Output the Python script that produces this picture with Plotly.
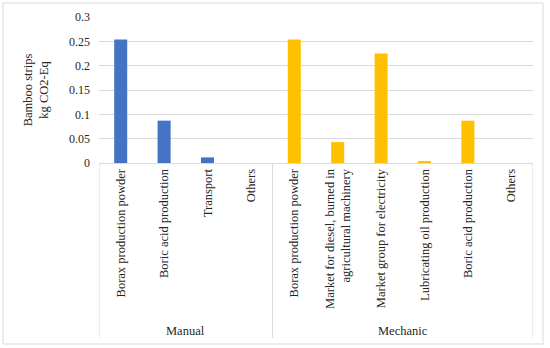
import plotly.graph_objects as go

groups = ["Manual"] * 4 + ["Mechanic"] * 6
categories = [
    "Borax production powder",
    "Boric acid production",
    "Transport",
    "Others",
    "Borax production powder",
    "Market for diesel, burned in<br>agricultural machinery",
    "Market group for electricity",
    "Lubricating oil production",
    "Boric acid production",
    "Others",
]
values = [0.254, 0.087, 0.0115, 0.0, 0.254, 0.043, 0.225, 0.0035, 0.087, 0.0]
colors = ["#4472C4"] * 4 + ["#FFC000"] * 6
y_ticks = [0, 0.05, 0.1, 0.15, 0.2, 0.25, 0.3]
y_ticktext = ["0", "0.05", "0.1", "0.15", "0.2", "0.25", "0.3"]

W, H = 550, 348
L, R, T, B = 99, 17, 17, 185
FONT = "Liberation Serif"
TXT = "#262626"
GRID = "#D9D9D9"

idx = list(range(len(categories)))
fig = go.Figure(go.Bar(x=idx, y=values, marker_color=colors, marker_line_width=0,
                       hoverinfo="skip"))

pw = W - L - R
ph = H - T - B
def px_x(p):
    return (p - L) / pw
def px_y(p):
    return (H - B - p) / ph

# group boundaries and centers derived from data
group_names = []
for g in groups:
    if g not in group_names:
        group_names.append(g)
bounds = [-0.5]
centers = []
for g in group_names:
    members = [i for i, gg in enumerate(groups) if gg == g]
    centers.append((members[0] + members[-1]) / 2)
    bounds.append(members[-1] + 0.5)

shapes = [dict(type="rect", xref="paper", yref="paper",
               x0=px_x(3), x1=px_x(543), y0=px_y(344), y1=px_y(3),
               line=dict(color=GRID, width=1), layer="below")]
for bnd in bounds:
    shapes.append(dict(type="line", xref="x", yref="paper", x0=bnd, x1=bnd,
                       y0=0, y1=px_y(338), line=dict(color=GRID, width=1)))
annotations = []
for g, c in zip(group_names, centers):
    annotations.append(dict(x=c, xref="x", y=px_y(331), yref="paper", text=g,
                            showarrow=False, yanchor="middle", xanchor="center",
                            font=dict(family=FONT, size=12.5, color=TXT)))

fig.update_layout(
    width=W, height=H,
    margin=dict(l=L, r=R, t=T, b=B, autoexpand=False),
    paper_bgcolor="white", plot_bgcolor="white",
    bargap=0.7,
    showlegend=False,
    font=dict(family=FONT, size=12, color=TXT),
    shapes=shapes,
    annotations=annotations,
)
fig.update_xaxes(
    range=[-0.5, len(categories) - 0.5],
    tickmode="array", tickvals=idx, ticktext=categories,
    tickangle=-90, automargin=False, showgrid=False, zeroline=False,
    showline=True, linecolor=GRID, linewidth=1, ticks="",
    tickfont=dict(family=FONT, size=12.5, color=TXT),
)
fig.update_yaxes(
    range=[0, 0.3], tickvals=y_ticks, ticktext=y_ticktext,
    showgrid=True, gridcolor=GRID, gridwidth=1, zeroline=False,
    showline=False, automargin=False, ticks="", ticklabelstandoff=8,
    tickfont=dict(family=FONT, size=12, color=TXT),
    title=dict(text="Bamboo strips<br>kg CO2-Eq", standoff=17,
               font=dict(family=FONT, size=12.5, color=TXT)),
)
fig.write_html("out.html", config={"displayModeBar": False},
               post_script="document.body.style.margin='0';")
